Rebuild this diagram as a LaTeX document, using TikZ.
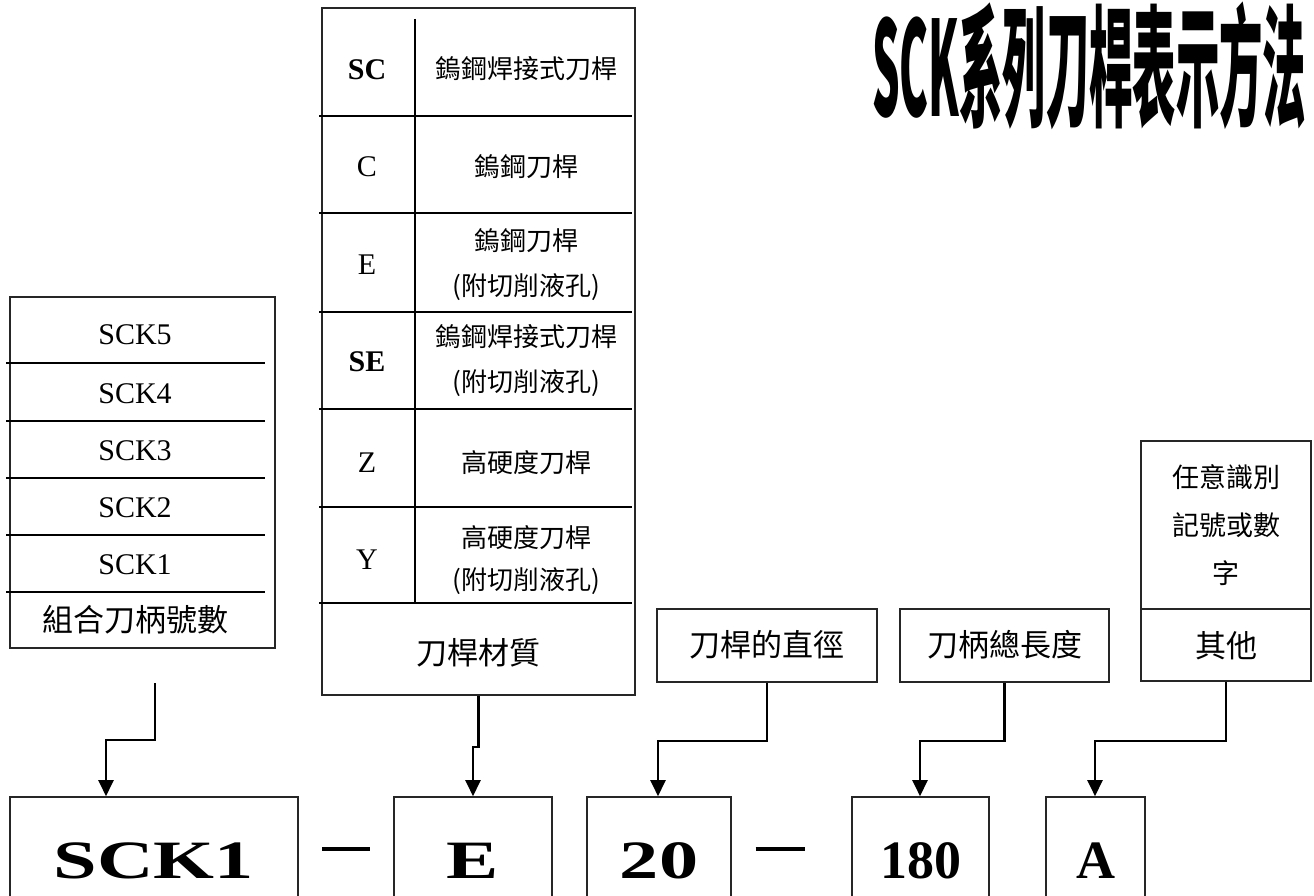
\documentclass[tikz,border=0pt]{standalone}
\usepackage{fontspec}
\setmainfont{Liberation Serif}
\newfontfamily\cjk{Noto Sans CJK TC}
\usetikzlibrary{arrows.meta}
\begin{document}
\begin{tikzpicture}[x=1pt,y=-1pt,
  tabbox/.style={draw=black!85, line width=1.6pt, inner sep=0pt},
  inline/.style={draw=black, line width=2.3pt},
  arr/.style={draw=black, line width=2.3pt, -{Triangle[length=16pt,width=15pt]}},
  latL/.style={font=\fontsize{30}{30}\selectfont, inner sep=0pt},
  latB/.style={font=\fontsize{30}{30}\selectfont\bfseries, inner sep=0pt},
  cjkL/.style={font=\fontsize{31}{31}\selectfont\cjk, inner sep=0pt},
  cjkM/.style={font=\fontsize{26}{26}\selectfont\cjk, inner sep=0pt},
  cjkR/.style={font=\fontsize{27}{27}\selectfont\cjk, inner sep=0pt},
  big/.style={font=\fontsize{54}{54}\selectfont\bfseries, inner sep=0pt, anchor=base},
  dashbar/.style={inner sep=0pt}
]
\useasboundingbox (0,0) rectangle (1314,896);
\clip (0,0) rectangle (1314,896);

% title
\node[inner sep=0pt, anchor=north west] (title) at (872,2)
  {\resizebox*{434pt}{128pt}{\cjk\bfseries SCK系列刀桿表示方法}};

% left table
\node[tabbox, minimum width=265pt, minimum height=351pt] (lefttab) at (142.5,472.5) {};
\foreach \y in {363,421,478,535,592} \draw[inline] (6,\y) -- (265,\y);
\node[latL] (s5) at (135,335) {SCK5};
\node[latL] (s4) at (135,394) {SCK4};
\node[latL] (s3) at (135,451) {SCK3};
\node[latL] (s2) at (135,508) {SCK2};
\node[latL] (s1) at (135,565) {SCK1};
\node[cjkL] (lcap) at (135,620) {組合刀柄號數};

% middle table
\node[tabbox, minimum width=313pt, minimum height=687pt] (midtab) at (478.5,351.5) {};
\draw[inline] (415,19) -- (415,603);
\foreach \y in {116,213,312,409,507,603} \draw[inline] (319,\y) -- (632,\y);
\node[latB] (kSC) at (367,70) {SC};
\node[latL] (kC) at (367,167) {C};
\node[latL] (kE) at (367,265) {E};
\node[latB] (kSE) at (367,362) {SE};
\node[latL] (kZ) at (367,463) {Z};
\node[latL] (kY) at (367,560) {Y};
\node[cjkM] (dSC) at (526,69) {鎢鋼焊接式刀桿};
\node[cjkM] (dC) at (526,167) {鎢鋼刀桿};
\node[cjkM] (dE1) at (526,241) {鎢鋼刀桿};
\node[cjkM] (dE2) at (526,287) {(附切削液孔)};
\node[cjkM] (dSE1) at (526,337) {鎢鋼焊接式刀桿};
\node[cjkM] (dSE2) at (526,383) {(附切削液孔)};
\node[cjkM] (dZ) at (526,463) {高硬度刀桿};
\node[cjkM] (dY1) at (526,538) {高硬度刀桿};
\node[cjkM] (dY2) at (526,581) {(附切削液孔)};
\node[cjkL] (mcap) at (478,653) {刀桿材質};

% right boxes
\node[tabbox, minimum width=220pt, minimum height=73pt] (dia) at (767,645.5) {};
\node[cjkL] (diat) at (767,645) {刀桿的直徑};
\node[tabbox, minimum width=209pt, minimum height=73pt] (len) at (1004.5,645.5) {};
\node[cjkL] (lent) at (1004.5,645) {刀柄總長度};
\node[tabbox, minimum width=170pt, minimum height=168pt] (othtop) at (1226,525) {};
\node[cjkR] (o1) at (1226,477) {任意識別};
\node[cjkR] (o2) at (1226,525) {記號或數};
\node[cjkR] (o3) at (1226,573) {字};
\node[tabbox, minimum width=170pt, minimum height=72pt] (oth) at (1226,645) {};
\node[cjkL] (otht) at (1226,646) {其他};

% bottom boxes
\node[tabbox, minimum width=288pt, minimum height=110pt] (sck) at (154,852) {};
\node[tabbox, minimum width=158pt, minimum height=110pt] (ebox) at (473,852) {};
\node[tabbox, minimum width=144pt, minimum height=110pt] (tw) at (659,852) {};
\node[tabbox, minimum width=137pt, minimum height=110pt] (oe) at (920.5,852) {};
\node[tabbox, minimum width=99pt, minimum height=110pt] (abox) at (1095.5,852) {};
\node[big] (sckt) at (154,878) {\scalebox{1.45}[1]{SCK1}};
\node[big] (et) at (473,878) {\scalebox{1.45}[1]{E}};
\node[big] (twt) at (659,878) {\scalebox{1.45}[1]{20}};
\node[big] (oet) at (920.5,878) {180};
\node[big] (at) at (1095.5,878) {A};
\node[dashbar] (d1) at (346,849) {\rule{48pt}{3.5pt}};
\node[dashbar] (d2) at (780,849) {\rule{49pt}{3.5pt}};

% connectors
\coordinate (la) at (155,683);
\coordinate (lb) at (106,740);
\draw[arr] (la) |- (lb) -- (lb |- sck.north);
\coordinate (mb) at (473,747);
\draw[arr] (midtab.south) |- (mb) -- (ebox.north);
\coordinate (db) at (658,741);
\draw[arr] (dia.south) |- (db) -- (db |- tw.north);
\coordinate (eb) at (920,741);
\draw[arr] (len.south) |- (eb) -- (eb |- oe.north);
\coordinate (ob) at (1095,741);
\draw[arr] (oth.south) |- (ob) -- (ob |- abox.north);
\end{tikzpicture}
\end{document}
